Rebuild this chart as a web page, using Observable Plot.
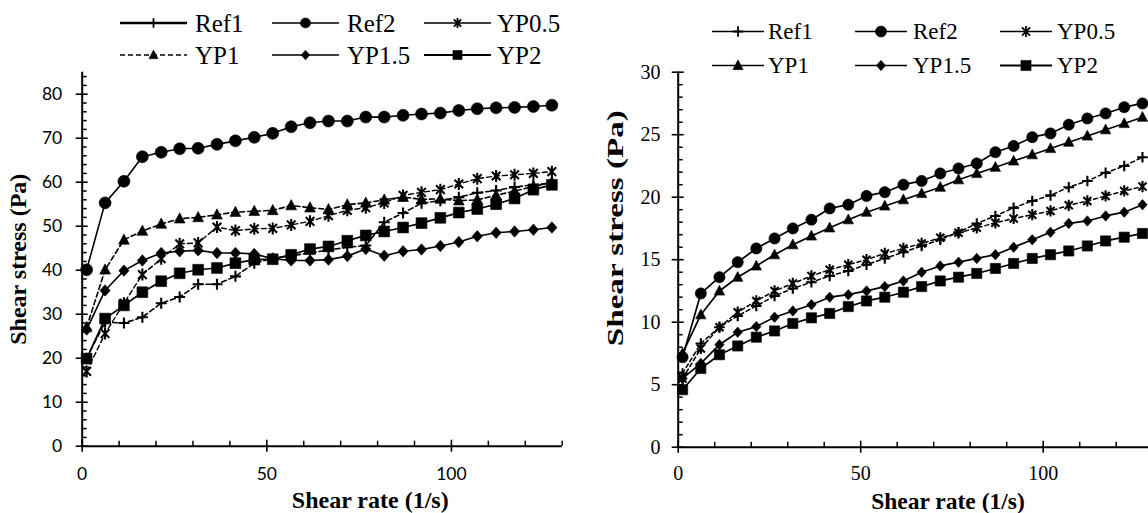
<!DOCTYPE html>
<html><head><meta charset="utf-8">
<script src="https://cdn.jsdelivr.net/npm/d3@7"></script>
<script src="https://cdn.jsdelivr.net/npm/@observablehq/plot@0.6"></script>
<style>
html,body{margin:0;padding:0;background:#fff;overflow:hidden;}
#root{position:relative;width:1148px;height:513px;overflow:hidden;background:#fff;}
.panel{position:absolute;top:0;}
.legend{position:absolute;left:0;top:0;pointer-events:none;}
</style></head><body><div id="root"></div>
<script>
// ---------- data ----------
const shearRate = [1.2, 6.2, 11.3, 16.3, 21.4, 26.4, 31.4, 36.5, 41.5, 46.6, 51.6, 56.6, 61.7, 66.7, 71.8, 76.8, 81.8, 86.9, 91.9, 97.0, 102.0, 107.0, 112.1, 117.1, 122.2, 127.2];
const seriesNames = ["Ref1", "Ref2", "YP0.5", "YP1", "YP1.5", "YP2"];

// left panel
const leftRef1  = [20.0, 28.2, 28.0, 29.3, 32.5, 33.9, 36.8, 36.8, 38.6, 41.6, 42.7, 43.3, 43.9, 44.6, 45.2, 45.6, 50.9, 53.0, 55.2, 55.8, 56.6, 57.6, 58.1, 58.9, 59.4, 59.8];
const leftRef2  = [40.1, 55.3, 60.2, 65.8, 66.8, 67.6, 67.7, 68.6, 69.4, 70.2, 71.1, 72.6, 73.5, 73.9, 73.9, 74.8, 74.8, 75.2, 75.5, 75.7, 76.3, 76.7, 76.9, 77.0, 77.2, 77.5];
const leftYP05  = [17.0, 25.6, 32.5, 39.0, 42.6, 46.0, 46.2, 49.8, 49.0, 49.4, 49.5, 50.3, 51.1, 52.4, 53.6, 54.2, 55.3, 57.0, 57.7, 58.3, 59.6, 60.8, 61.4, 61.7, 62.0, 62.4];
const leftYP1   = [27.0, 40.1, 46.9, 48.9, 50.5, 51.7, 52.0, 52.6, 53.2, 53.4, 53.6, 54.7, 54.2, 53.8, 54.9, 55.3, 56.0, 56.6, 56.1, 56.2, 55.8, 56.0, 57.0, 58.0, 59.0, 60.0];
const leftYP15  = [26.5, 35.4, 39.9, 42.2, 43.9, 44.3, 44.5, 43.9, 43.9, 43.7, 42.6, 42.2, 42.2, 42.4, 43.2, 44.8, 43.3, 44.3, 44.7, 45.5, 46.4, 47.7, 48.5, 48.8, 49.2, 49.7];
const leftYP2   = [19.9, 29.0, 32.0, 35.0, 37.5, 39.3, 40.1, 40.5, 41.6, 42.4, 42.5, 43.5, 44.8, 45.4, 46.7, 47.9, 48.8, 49.7, 50.7, 51.9, 53.1, 53.9, 55.0, 56.3, 58.3, 59.4];

// right panel
const rightRef1 = [5.9, 8.3, 9.6, 10.5, 11.3, 12.1, 12.7, 13.2, 13.7, 14.1, 14.6, 15.1, 15.6, 16.1, 16.6, 17.2, 17.9, 18.5, 19.15, 19.7, 20.15, 20.8, 21.3, 21.95, 22.5, 23.2];
const rightRef2 = [7.2, 12.3, 13.6, 14.8, 15.9, 16.7, 17.5, 18.2, 19.1, 19.4, 20.1, 20.4, 21.0, 21.3, 21.9, 22.3, 22.7, 23.6, 24.1, 24.8, 25.1, 25.8, 26.3, 26.7, 27.2, 27.5];
const rightYP05 = [5.5, 7.9, 9.6, 10.8, 11.7, 12.5, 13.1, 13.7, 14.2, 14.6, 15.0, 15.5, 15.9, 16.3, 16.75, 17.15, 17.55, 17.95, 18.3, 18.6, 18.9, 19.35, 19.7, 20.1, 20.5, 20.85];
const rightYP1  = [7.5, 10.6, 12.5, 13.6, 14.5, 15.4, 16.2, 16.9, 17.55, 18.2, 18.8, 19.3, 19.8, 20.3, 20.8, 21.4, 21.9, 22.4, 22.9, 23.4, 23.9, 24.4, 24.9, 25.4, 25.9, 26.4];
const rightYP15 = [5.5, 6.7, 8.2, 9.2, 9.65, 10.4, 10.9, 11.4, 12.0, 12.2, 12.5, 12.85, 13.3, 14.0, 14.5, 14.8, 15.1, 15.4, 16.0, 16.6, 17.2, 17.9, 18.1, 18.5, 18.8, 19.4];
const rightYP2  = [4.6, 6.3, 7.4, 8.1, 8.8, 9.3, 9.9, 10.35, 10.7, 11.25, 11.7, 12.0, 12.4, 12.85, 13.3, 13.6, 13.9, 14.3, 14.7, 15.1, 15.4, 15.7, 16.1, 16.5, 16.8, 17.1];

// ticks
const xMajorTicks = [0, 50, 100];
const xMinorTicks = [10, 20, 30, 40, 60, 70, 80, 90, 110, 120, 130];
const leftYTicks = [0, 10, 20, 30, 40, 50, 60, 70, 80];
const leftYMinor = d3.range(2, 85, 2).filter(v => v % 10 !== 0);
const rightYTicks = [0, 5, 10, 15, 20, 25, 30];
const rightYMinor = d3.range(1, 30, 1).filter(v => v % 5 !== 0);
const xTitle = "Shear rate (1/s)";
const yTitle = "Shear stress (Pa)";

// ---------- symbols ----------
const R = s => Math.sqrt(s / Math.PI);
const symbols = {
  circle: {draw(c, s) { const r = R(s); c.moveTo(r, 0); c.arc(0, 0, r, 0, 2 * Math.PI); }},
  square: {draw(c, s) { const r = R(s); c.rect(-r, -r, 2 * r, 2 * r); }},
  triangle: {draw(c, s) { const r = R(s); c.moveTo(0, -r * 1.1); c.lineTo(r, r * 0.8); c.lineTo(-r, r * 0.8); c.closePath(); }},
  diamond: {draw(c, s) { const r = R(s); c.moveTo(0, -r); c.lineTo(r * 0.9, 0); c.lineTo(0, r); c.lineTo(-r * 0.9, 0); c.closePath(); }},
  plus: {draw(c, s) { const r = R(s); c.moveTo(-r, 0); c.lineTo(r, 0); c.moveTo(0, -r); c.lineTo(0, r); }},
  asterisk: {draw(c, s) { const r = R(s); const a = r * 0.72; c.moveTo(-a, -a); c.lineTo(a, a); c.moveTo(-a, a); c.lineTo(a, -a); c.moveTo(0, -r); c.lineTo(0, r); }}
};
const strokeSymbols = new Set(["plus", "asterisk"]);

// ---------- styles ----------
const leftStyle = {
  "Ref1":  {symbol: "plus", r: 5.5, dash: "5,3", lw: 1.6, legendLw: 2.6, legendDash: null},
  "Ref2":  {symbol: "circle", r: 6, dash: null, lw: 1.6, legendLw: 1.6, legendDash: null},
  "YP0.5": {symbol: "asterisk", r: 6, dash: "5,3", lw: 1.4, legendLw: 1.3, legendDash: null},
  "YP1":   {symbol: "triangle", r: 5.4, dash: "5,3", lw: 1.6, legendLw: 1.5, legendDash: "5,3"},
  "YP1.5": {symbol: "diamond", r: 5.7, dash: null, lw: 1.6, legendLw: 1.6, legendDash: null},
  "YP2":   {symbol: "square", r: 5.4, dash: null, lw: 1.7, legendLw: 2.2, legendDash: null}
};
const rightStyle = {
  "Ref1":  {symbol: "plus", r: 5.3, dash: "4,3", lw: 1.5, legendLw: 1.5, legendDash: null},
  "Ref2":  {symbol: "circle", r: 5.6, dash: null, lw: 1.7, legendLw: 1.6, legendDash: null},
  "YP0.5": {symbol: "asterisk", r: 5.6, dash: "4,3", lw: 1.5, legendLw: 1.5, legendDash: null},
  "YP1":   {symbol: "triangle", r: 5.2, dash: null, lw: 1.7, legendLw: 1.6, legendDash: null},
  "YP1.5": {symbol: "diamond", r: 5.2, dash: null, lw: 1.7, legendLw: 1.6, legendDash: null},
  "YP2":   {symbol: "square", r: 5.1, dash: null, lw: 1.7, legendLw: 2.2, legendDash: null}
};

function rows(values) { return shearRate.map((x, i) => ({x, y: values[i]})); }

function seriesMarks(valuesList, styles) {
  const marks = [];
  valuesList.forEach((vals, k) => {
    const st = styles[seriesNames[k]];
    const data = rows(vals);
    marks.push(Plot.line(data, {x: "x", y: "y", stroke: "black", strokeWidth: st.lw, strokeDasharray: st.dash || undefined}));
  });
  valuesList.forEach((vals, k) => {
    const st = styles[seriesNames[k]];
    const data = rows(vals);
    const isStroke = strokeSymbols.has(st.symbol);
    marks.push(Plot.dot(data, {x: "x", y: "y", r: st.r, symbol: symbols[st.symbol],
      fill: isStroke ? "none" : "black", stroke: "black", strokeWidth: isStroke ? 2.1 : 0.6}));
  });
  return marks;
}

function makePanel(cfg) {
  const innerW = cfg.width - cfg.marginLeft - cfg.marginRight;
  const innerH = cfg.height - cfg.marginTop - cfg.marginBottom;
  return Plot.plot({
    width: cfg.width, height: cfg.height,
    marginLeft: cfg.marginLeft, marginRight: cfg.marginRight,
    marginTop: cfg.marginTop, marginBottom: cfg.marginBottom,
    style: {fontFamily: cfg.tickFont, fontSize: cfg.tickSize + "px", color: "black", background: "transparent", overflow: "visible"},
    x: {domain: [0, 130], label: null},
    y: {domain: cfg.yDomain, label: null},
    marks: [
      ...seriesMarks(cfg.values, cfg.styles),
      Plot.ruleX([0], {stroke: "black", strokeWidth: 2}),
      Plot.ruleY([0], {stroke: "black", strokeWidth: 2}),
      Plot.tickX(xMajorTicks, {x: d => d, stroke: "black", strokeWidth: 1.6, insetTop: innerH - 6, insetBottom: -6}),
      Plot.tickX(xMinorTicks, {x: d => d, stroke: "black", strokeWidth: 1.5, insetTop: innerH - 5}),
      Plot.tickY(cfg.yMajor, {y: d => d, stroke: "black", strokeWidth: 1.6, insetLeft: -6, insetRight: innerW - 6}),
      Plot.tickY(cfg.yMinor, {y: d => d, stroke: "black", strokeWidth: 1.5, insetRight: innerW - 5}),
      Plot.axisX({ticks: xMajorTicks, tickSize: 0, tickPadding: cfg.xPad, label: null, fill: "black",
        fontFamily: cfg.tickFont, fontSize: cfg.tickSize}),
      Plot.axisY({ticks: cfg.yMajor, tickSize: 0, tickPadding: cfg.yPad, label: null, fill: "black",
        fontFamily: cfg.tickFont, fontSize: cfg.tickSize}),
      Plot.text([xTitle], {text: d => d, frameAnchor: "bottom", dx: cfg.xTitleDx, dy: cfg.xTitleDy, lineAnchor: "bottom",
        textAnchor: "middle", fontFamily: "Liberation Serif", fontWeight: "bold", fontSize: cfg.titleSize, fill: "black"}),
      Plot.text([yTitle], {text: d => d, frameAnchor: "left", rotate: -90, dx: cfg.yTitleDx, dy: cfg.yTitleDy, lineAnchor: "bottom",
        textAnchor: "middle", fontFamily: "Liberation Serif", fontWeight: "bold", fontSize: cfg.titleSize, fill: "black"})
    ]
  });
}

const root = document.getElementById("root");

const left = makePanel({
  width: 580, height: 513, marginLeft: 81.7, marginRight: 18.3, marginTop: 71.7, marginBottom: 67.3,
  yDomain: [0, 85], yMajor: leftYTicks, yMinor: leftYMinor,
  values: [leftRef1, leftRef2, leftYP05, leftYP1, leftYP15, leftYP2], styles: leftStyle,
  tickFont: "Lato", tickSize: 17.5, xPad: 21, yPad: 20,
  titleSize: 24, xTitleDx: 48, xTitleDy: 62, yTitleDx: -56, yTitleDy: 0
});
left.classList.add("panel"); left.style.left = "0px";
root.appendChild(left);

const right = makePanel({
  width: 582, height: 513, marginLeft: 97.7, marginRight: 9.8, marginTop: 71.7, marginBottom: 66.3,
  yDomain: [0, 30], yMajor: rightYTicks, yMinor: rightYMinor,
  values: [rightRef1, rightRef2, rightYP05, rightYP1, rightYP15, rightYP2], styles: rightStyle,
  tickFont: "Liberation Serif", tickSize: 20, xPad: 19, yPad: 17.7,
  titleSize: 23.5, xTitleDx: 32.5, xTitleDy: 61.5, yTitleDx: -55, yTitleDy: -31.5
});
right.classList.add("panel"); right.style.left = "580px";
root.appendChild(right);

// stretch the right y title to match the reference length
d3.select(right).selectAll("text").filter(function() { return this.textContent === yTitle; })
  .attr("textLength", 236).attr("lengthAdjust", "spacingAndGlyphs");

// ---------- legends ----------
function makeLegend(styles, layout) {
  const svg = d3.create("svg").attr("class", "legend").attr("width", 1148).attr("height", 90);
  seriesNames.forEach((name, k) => {
    const col = k % 3, row = Math.floor(k / 3);
    const st = styles[name];
    const x0 = layout.lineX[col], x1 = x0 + layout.lineLen, cy = layout.rowY[row];
    svg.append("line").attr("x1", x0).attr("x2", x1).attr("y1", cy).attr("y2", cy)
      .attr("stroke", "black").attr("stroke-width", st.legendLw)
      .attr("stroke-dasharray", st.legendDash || null);
    const isStroke = strokeSymbols.has(st.symbol);
    const rr = st.r * layout.symScale;
    svg.append("path").attr("transform", `translate(${(x0 + x1) / 2},${cy})`)
      .attr("d", d3.symbol(symbols[st.symbol], Math.PI * rr * rr)())
      .attr("fill", isStroke ? "none" : "black").attr("stroke", "black").attr("stroke-width", isStroke ? 1.8 : 0.5);
    svg.append("text").attr("x", layout.textX[col]).attr("y", layout.baseY[row])
      .attr("font-family", "Liberation Serif").attr("font-size", layout.fontSize).attr("fill", "black")
      .text(name);
  });
  return svg.node();
}
root.appendChild(makeLegend(leftStyle, {
  lineX: [120, 272, 424], lineLen: 67, textX: [195, 347, 497], rowY: [23, 55], baseY: [31.8, 63.5],
  fontSize: 25, symScale: 0.85
}));
root.appendChild(makeLegend(rightStyle, {
  lineX: [712, 855, 1000], lineLen: 52, textX: [768, 913, 1057], rowY: [31.5, 65.5], baseY: [39.3, 73.3],
  fontSize: 23, symScale: 1.0
}));
</script></body></html>
